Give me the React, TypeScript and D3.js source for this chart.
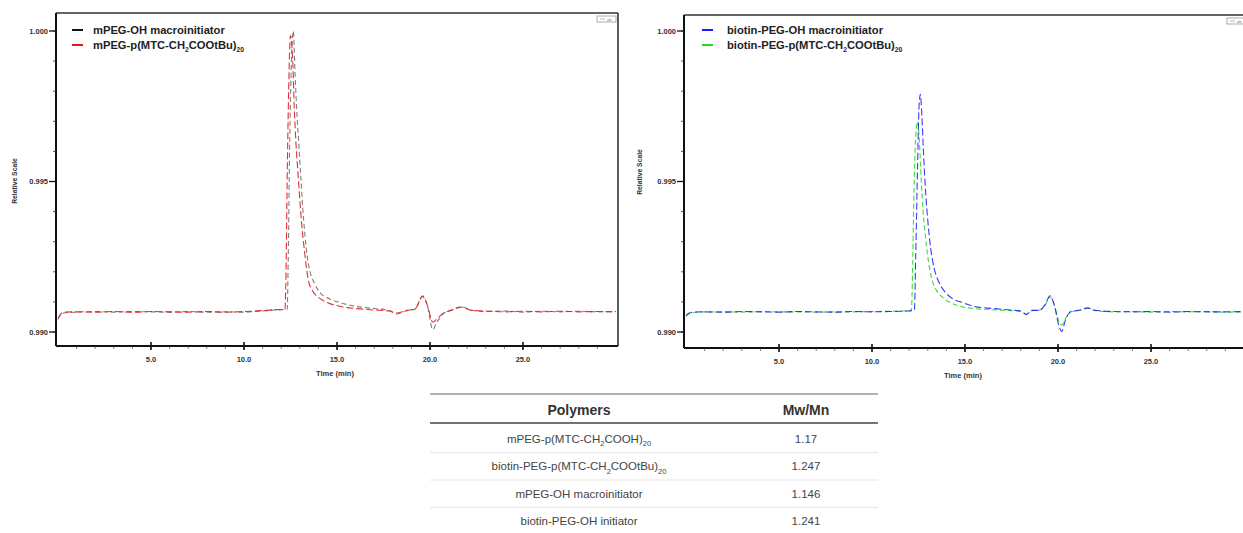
import React from "react";
import * as d3 from "d3";

// ---------- DATA ----------
const xMajorTicks = [5, 10, 15, 20, 25];
const xMinorTicks = d3.range(1, 30, 1);
const yMajorTicks = [0.99, 0.995, 1.0];
const yMinorTicks = d3.range(0, 11).map((i) => 0.99 + i * 0.001);

const legendLeft = ["mPEG-OH macroinitiator", "mPEG-p(MTC-CH_{2}COOtBu)_{20}"];
const legendRight = ["biotin-PEG-OH macroinitiator", "biotin-PEG-p(MTC-CH_{2}COOtBu)_{20}"];

// [time (min), relative scale]
const mpegOH: [number, number][] = [
  [0, 0.99042], [0.15, 0.99058], [0.4, 0.99064], [1, 0.99066], [2, 0.99068], [3, 0.99066],
  [4, 0.99068], [5, 0.99067], [6, 0.99066], [7, 0.99068], [8, 0.99066], [9, 0.99067],
  [10, 0.99066], [11, 0.9907], [12, 0.99074], [12.32, 0.99075], [12.38, 0.9925], [12.45, 0.996],
  [12.55, 0.999], [12.65, 1.0], [12.75, 0.9985], [12.85, 0.9972], [12.95, 0.9962], [13.05, 0.9952],
  [13.15, 0.9942], [13.28, 0.9932], [13.4, 0.9925], [13.55, 0.992], [13.8, 0.9916], [14.1, 0.9913],
  [14.6, 0.9911], [15.2, 0.99097], [16, 0.99085], [17, 0.99078], [17.8, 0.99072], [18.2, 0.9906],
  [18.7, 0.9907], [19.2, 0.99076], [19.6, 0.9912], [19.85, 0.9909], [20.15, 0.99008], [20.35, 0.9903],
  [20.7, 0.9906], [21.1, 0.99072], [21.7, 0.99084], [22.2, 0.99073], [23, 0.99068], [24, 0.9907],
  [25, 0.99066], [26, 0.99069], [27, 0.99067], [28, 0.99069], [29, 0.99067], [30, 0.99068],
];

const mpegPMTC: [number, number][] = [
  [0, 0.99045], [0.15, 0.9906], [0.4, 0.99066], [1, 0.99067], [2, 0.99066], [3, 0.99068],
  [4, 0.99066], [5, 0.99068], [6, 0.99067], [7, 0.99066], [8, 0.99068], [9, 0.99066],
  [10, 0.99068], [11, 0.99071], [12, 0.99075], [12.2, 0.99075], [12.26, 0.992], [12.32, 0.995],
  [12.4, 0.998], [12.5, 0.99985], [12.56, 0.9996], [12.62, 0.999], [12.7, 0.9975], [12.8, 0.9962],
  [12.9, 0.9953], [13.0, 0.9944], [13.1, 0.9936], [13.25, 0.9927], [13.45, 0.99175], [13.7, 0.99135],
  [14.0, 0.99115], [14.5, 0.99097], [15.2, 0.99085], [16, 0.99078], [17, 0.99073], [17.8, 0.9907],
  [18.2, 0.99063], [18.7, 0.99071], [19.2, 0.99077], [19.6, 0.99118], [19.85, 0.9909], [20.15, 0.99033],
  [20.35, 0.99042], [20.7, 0.99062], [21.1, 0.99071], [21.7, 0.99082], [22.2, 0.99072], [23, 0.9907],
  [24, 0.99067], [25, 0.99069], [26, 0.99067], [27, 0.99069], [28, 0.99067], [29, 0.99068], [30, 0.99067],
];

const biotinOH: [number, number][] = [
  [0, 0.99055], [0.15, 0.99062], [0.4, 0.99066], [1, 0.99067], [2, 0.99066], [3, 0.99068],
  [4, 0.99067], [5, 0.99066], [6, 0.99068], [7, 0.99067], [8, 0.99066], [9, 0.99068],
  [10, 0.99067], [11, 0.99068], [12, 0.9907], [12.28, 0.99072], [12.35, 0.9925], [12.45, 0.9955],
  [12.53, 0.9975], [12.6, 0.9979], [12.68, 0.9972], [12.78, 0.9958], [12.9, 0.9945], [13.0, 0.9937],
  [13.15, 0.9928], [13.35, 0.9921], [13.6, 0.99165], [13.9, 0.99135], [14.3, 0.99112], [14.9, 0.99097],
  [15.5, 0.99085], [16.5, 0.99078], [17.5, 0.99073], [18.0, 0.9907], [18.3, 0.99058], [18.6, 0.99072],
  [19.0, 0.99072], [19.3, 0.9909], [19.57, 0.9912], [19.8, 0.9909], [20.05, 0.9902], [20.2, 0.99002],
  [20.4, 0.9904], [20.7, 0.99068], [21.2, 0.99073], [21.6, 0.9908], [22.0, 0.99072], [23, 0.99068],
  [24, 0.99067], [25, 0.99068], [26, 0.99066], [27, 0.99068], [28, 0.99067], [29, 0.99067], [30, 0.99068],
];

const biotinPMTC: [number, number][] = [
  [0, 0.99052], [0.15, 0.9906], [0.4, 0.99065], [1, 0.99067], [2, 0.99067], [3, 0.99066],
  [4, 0.99068], [5, 0.99067], [6, 0.99067], [7, 0.99066], [8, 0.99067], [9, 0.99067],
  [10, 0.99068], [11, 0.99069], [12, 0.99071], [12.12, 0.99073], [12.18, 0.992], [12.25, 0.9945],
  [12.35, 0.9965], [12.45, 0.997], [12.55, 0.9963], [12.65, 0.995], [12.75, 0.994], [12.85, 0.9933],
  [13.0, 0.9925], [13.2, 0.9918], [13.5, 0.99135], [13.8, 0.99115], [14.3, 0.99095], [14.9, 0.99083],
  [15.5, 0.99078], [16.5, 0.99074], [17.5, 0.99071], [18.0, 0.99069], [18.3, 0.9906], [18.6, 0.99071],
  [19.0, 0.99073], [19.3, 0.99088], [19.57, 0.99117], [19.8, 0.9909], [20.05, 0.99035], [20.2, 0.99023],
  [20.4, 0.99045], [20.7, 0.99067], [21.2, 0.99072], [21.6, 0.99079], [22.0, 0.99071], [23, 0.99067],
  [24, 0.99068], [25, 0.99066], [26, 0.99068], [27, 0.99067], [28, 0.99068], [29, 0.99066], [30, 0.99067],
];

const tableHeaders = ["Polymers", "Mw/Mn"];
const polymerNames = [
  "mPEG-p(MTC-CH_{2}COOH)_{20}",
  "biotin-PEG-p(MTC-CH_{2}COOtBu)_{20}",
  "mPEG-OH macroinitiator",
  "biotin-PEG-OH initiator",
];
const pdiValues = ["1.17", "1.247", "1.146", "1.241"];

// ---------- HELPERS ----------
const FONT = "'Liberation Sans', Arial, Helvetica, sans-serif";

function RichText({ text, fontSize, subScale = 0.6 }: { text: string; fontSize: number; subScale?: number }) {
  const parts: { t: string; sub: boolean }[] = [];
  const re = /_\{([^}]*)\}/g;
  let last = 0;
  let m: RegExpExecArray | null;
  while ((m = re.exec(text))) {
    if (m.index > last) parts.push({ t: text.slice(last, m.index), sub: false });
    parts.push({ t: m[1], sub: true });
    last = m.index + m[0].length;
  }
  if (last < text.length) parts.push({ t: text.slice(last), sub: false });
  const out: JSX.Element[] = [];
  let prevSub = false;
  parts.forEach((p, i) => {
    let dy: number | undefined = undefined;
    if (p.sub && !prevSub) dy = fontSize * 0.3;
    if (!p.sub && prevSub) dy = -fontSize * 0.3;
    out.push(
      <tspan key={i} dy={dy} fontSize={p.sub ? fontSize * subScale : fontSize}>
        {p.t}
      </tspan>
    );
    prevSub = p.sub;
  });
  return <>{out}</>;
}

type Series = { data: [number, number][]; color: string; dash: string; opacity: number; width: number };

function Panel({
  x0, x30, frameLeft, frameRight, frameTop, frameBottom, series, legend, legendColors,
  legendX, legendGap, ylabelX, ylabelY, xlabelX, xlabelY, boxX, boxY,
}: {
  x0: number; x30: number; frameLeft: number; frameRight: number; frameTop: number; frameBottom: number;
  series: Series[]; legend: string[]; legendColors: string[]; legendX: number; legendGap: number;
  ylabelX: number; ylabelY: number; xlabelX: number; xlabelY: number; boxX: number; boxY: number;
}) {
  const x = d3.scaleLinear().domain([0, 30]).range([x0, x30]);
  const y = d3.scaleLinear().domain([0.99, 1.0]).range([332, 31]);
  const line = d3
    .line<[number, number]>()
    .x((d) => x(d[0]))
    .y((d) => y(d[1]))
    .curve(d3.curveMonotoneX);
  const fmtY = d3.format(".3f");
  const fmtX = d3.format(".1f");
  return (
    <g>
      <line x1={frameLeft} x2={frameRight} y1={frameTop} y2={frameTop} stroke="#333" strokeWidth={1.6} />
      <line x1={frameRight} x2={frameRight} y1={frameTop} y2={frameBottom} stroke="#333" strokeWidth={1.6} />
      <rect x={boxX} y={boxY} width={19} height={6} fill="#fff" stroke="#888" strokeWidth={0.7} />
      <line x1={boxX + 3} x2={boxX + 8} y1={boxY + 3} y2={boxY + 3} stroke="#888" strokeWidth={0.6} />
      <text x={boxX + 10} y={boxY + 5} fontSize={4} fill="#777" fontFamily={FONT}>ab</text>
      <g>
        {series.map((s, i) => (
          <path
            key={i}
            d={line(s.data) || ""}
            fill="none"
            stroke={s.color}
            strokeWidth={s.width}
            strokeDasharray={s.dash}
            strokeOpacity={s.opacity}
          />
        ))}
      </g>
      <line x1={frameLeft} x2={frameLeft} y1={frameTop} y2={frameBottom} stroke="#111" strokeWidth={2} />
      <line x1={frameLeft} x2={frameRight} y1={frameBottom} y2={frameBottom} stroke="#111" strokeWidth={2} />
      {yMinorTicks.map((v, i) => (
        <line key={"ym" + i} x1={frameLeft - 3} x2={frameLeft} y1={y(v)} y2={y(v)} stroke="#333" strokeWidth={0.8} />
      ))}
      {yMajorTicks.map((v, i) => (
        <g key={"yM" + i}>
          <line x1={frameLeft - 7} x2={frameLeft} y1={y(v)} y2={y(v)} stroke="#111" strokeWidth={1.3} />
          <text x={frameLeft - 8} y={y(v) + 2.5} textAnchor="end" fontSize={7.5} fontWeight={700} fill="#333" fontFamily={FONT}>
            {fmtY(v)}
          </text>
        </g>
      ))}
      {xMinorTicks.map((v, i) => (
        <line key={"xm" + i} x1={x(v)} x2={x(v)} y1={frameBottom} y2={frameBottom + 3} stroke="#444" strokeWidth={0.7} />
      ))}
      {xMajorTicks.map((v, i) => (
        <g key={"xM" + i}>
          <line x1={x(v)} x2={x(v)} y1={frameBottom - 4} y2={frameBottom + 4} stroke="#111" strokeWidth={1.6} />
          <text x={x(v)} y={frameBottom + 16} textAnchor="middle" fontSize={7.5} fontWeight={700} fill="#333" fontFamily={FONT}>
            {fmtX(v)}
          </text>
        </g>
      ))}
      <text x={xlabelX} y={xlabelY} textAnchor="middle" fontSize={7.5} fontWeight={700} fill="#333" fontFamily={FONT}>
        Time (min)
      </text>
      <text
        transform={`translate(${ylabelX},${ylabelY}) rotate(-90)`}
        textAnchor="middle"
        fontSize={6.8}
        fontWeight={700}
        fill="#333"
        fontFamily={FONT}
      >
        Relative Scale
      </text>
      {legend.map((t, i) => (
        <g key={"lg" + i}>
          <line x1={legendX} x2={legendX + 11} y1={30 + i * 15} y2={30 + i * 15} stroke={legendColors[i]} strokeWidth={2} />
          <text x={legendX + legendGap} y={34 + i * 15} fontSize={11.2} fontWeight={700} fill="#222" fontFamily={FONT}>
            <RichText text={t} fontSize={11.2} />
          </text>
        </g>
      ))}
    </g>
  );
}

function Table() {
  const colX = d3.scaleOrdinal<string, number>().domain(tableHeaders).range([579, 806]);
  const rowY = d3.scaleLinear().domain([0, 3]).range([439, 521]);
  const left = 430;
  const right = 878;
  return (
    <g fontFamily={FONT}>
      <line x1={left} x2={right} y1={394} y2={394} stroke="#999" strokeWidth={1.5} />
      {tableHeaders.map((h) => (
        <text key={h} x={colX(h)} y={415} textAnchor="middle" fontSize={14} fontWeight={700} fill="#333">
          {h}
        </text>
      ))}
      <line x1={left} x2={right} y1={423} y2={423} stroke="#444" strokeWidth={1.5} />
      {polymerNames.map((n, i) => (
        <g key={n}>
          <text x={colX(tableHeaders[0])} y={rowY(i) + 4} textAnchor="middle" fontSize={11.5} fill="#444">
            <RichText text={n} fontSize={11.5} subScale={0.65} />
          </text>
          <text x={colX(tableHeaders[1])} y={rowY(i) + 4} textAnchor="middle" fontSize={11.5} fill="#444">
            {pdiValues[i]}
          </text>
          {i < polymerNames.length - 1 && (
            <line x1={left} x2={right} y1={(rowY(i) + rowY(i + 1)) / 2} y2={(rowY(i) + rowY(i + 1)) / 2} stroke="#e4e4e4" strokeWidth={1} />
          )}
        </g>
      ))}
    </g>
  );
}

export default function App() {
  return (
    <svg
      width={1243}
      height={533}
      style={{ position: "absolute", left: 0, top: 0, background: "#fff" }}
    >
      <rect width={1243} height={533} fill="#fff" />
      <Panel
        x0={58}
        x30={616}
        frameLeft={56}
        frameRight={618}
        frameTop={13}
        frameBottom={346}
        series={[
          { data: mpegOH, color: "#000", dash: "5 3", opacity: 0.5, width: 1.1 },
          { data: mpegPMTC, color: "#e8161c", dash: "7 3", opacity: 0.9, width: 1.1 },
        ]}
        legend={legendLeft}
        legendColors={["#111", "#e8161c"]}
        legendX={72}
        legendGap={21}
        ylabelX={17}
        ylabelY={181}
        xlabelX={335}
        xlabelY={376}
        boxX={597}
        boxY={16}
      />
      <Panel
        x0={686}
        x30={1244}
        frameLeft={684}
        frameRight={1250}
        frameTop={15}
        frameBottom={348}
        series={[
          { data: biotinPMTC, color: "#20dd20", dash: "5 3", opacity: 0.9, width: 1.1 },
          { data: biotinOH, color: "#1a1aff", dash: "7 3", opacity: 0.85, width: 1.1 },
        ]}
        legend={legendRight}
        legendColors={["#1a1aff", "#20dd20"]}
        legendX={702}
        legendGap={25}
        ylabelX={642}
        ylabelY={172}
        xlabelX={963}
        xlabelY={378}
        boxX={1227}
        boxY={18}
      />
      <Table />
    </svg>
  );
}
